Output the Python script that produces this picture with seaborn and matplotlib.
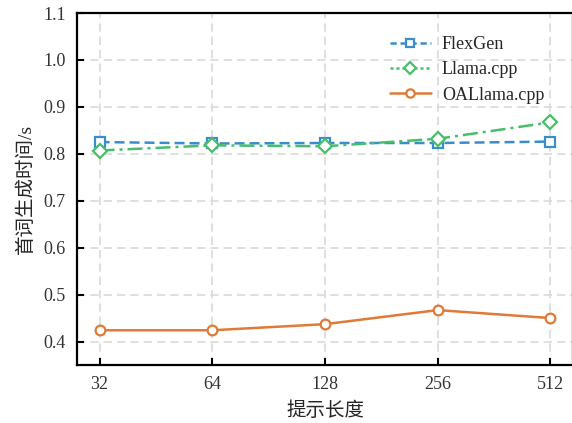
import numpy as np
import pandas as pd
import seaborn as sns
import matplotlib
matplotlib.use("Agg")
import matplotlib.pyplot as plt
from matplotlib.lines import Line2D

# Prompt lengths (categorical x axis)
prompt_lengths = ["32", "64", "128", "256", "512"]

# Time to first token (seconds)
flexgen = [0.825, 0.822, 0.823, 0.823, 0.826]
llama_cpp = [0.807, 0.818, 0.816, 0.832, 0.867]
oallama_cpp = [0.424, 0.424, 0.437, 0.467, 0.450]

series_names = ["FlexGen", "Llama.cpp", "OALlama.cpp"]
series_values = [flexgen, llama_cpp, oallama_cpp]

rows = []
for name, vals in zip(series_names, series_values):
    for i, (lab, v) in enumerate(zip(prompt_lengths, vals)):
        rows.append({"pos": i, "length": lab, "method": name, "time": v})
df = pd.DataFrame(rows)

sns.set_theme(style="ticks")
plt.rcParams["font.family"] = ["Liberation Serif", "Noto Sans CJK SC"]
plt.rcParams["axes.unicode_minus"] = False

fig = plt.figure(figsize=(5.72, 4.23), dpi=100)
ax = fig.add_axes([77 / 572, 1 - 365 / 423, 496 / 572, (365 - 13) / 423])

palette = {"FlexGen": "#3a8dcd", "Llama.cpp": "#47bf6a", "OALlama.cpp": "#e07a36"}
markers = {"FlexGen": "s", "Llama.cpp": "D", "OALlama.cpp": "o"}
linestyles = {"FlexGen": (0, (4, 2)), "Llama.cpp": (0, (6, 2, 1.2, 2)), "OALlama.cpp": "-"}

for name, vals in zip(series_names, series_values):
    sub = df[df["method"] == name]
    sns.lineplot(data=sub, x="pos", y="time", color=palette[name],
                 marker=markers[name], markersize=7, markerfacecolor="white",
                 markeredgecolor=palette[name], markeredgewidth=1.6,
                 linewidth=1.8, linestyle=linestyles[name], legend=False, ax=ax)

ax.set_xlim(-0.2, 4.2)
ax.set_ylim(0.35, 1.1)
ax.set_xticks(range(len(prompt_lengths)))
ax.set_xticklabels(prompt_lengths)
ax.set_yticks(np.arange(0.4, 1.11, 0.1))
ax.yaxis.set_major_formatter(matplotlib.ticker.FormatStrFormatter("%.1f"))

ax.grid(True, linestyle=(0, (5, 3)), color="#d9d9d9", linewidth=1.2)
ax.set_axisbelow(True)
for s in ax.spines.values():
    s.set_linewidth(1.6)
    s.set_color("black")
ax.tick_params(direction="in", length=5, width=1.5, labelsize=13, colors="black",
               labelcolor="#333333", pad=8)

ax.set_xlabel("提示长度", fontsize=14, labelpad=6)
ax.set_ylabel("首词生成时间/s", fontsize=14, labelpad=6)

handles = [
    Line2D([], [], color=palette["FlexGen"], linestyle=(0, (2.5, 1.5)), linewidth=1.8,
           marker="s", markersize=6, markerfacecolor="white",
           markeredgecolor=palette["FlexGen"], markeredgewidth=1.6),
    Line2D([], [], color=palette["Llama.cpp"], linestyle=(0, (1.2, 1.2)), linewidth=1.8,
           marker="D", markersize=6, markerfacecolor="white",
           markeredgecolor=palette["Llama.cpp"], markeredgewidth=1.6),
    Line2D([], [], color=palette["OALlama.cpp"], linestyle="-", linewidth=1.8,
           marker="o", markersize=6, markerfacecolor="white",
           markeredgecolor=palette["OALlama.cpp"], markeredgewidth=1.6),
]
ax.legend(handles, series_names, loc="upper right", bbox_to_anchor=(0.975, 0.98),
          frameon=False, fontsize=13, handlelength=2.3, labelspacing=0.45,
          handletextpad=0.6)

fig.savefig("out.png", dpi=100)
